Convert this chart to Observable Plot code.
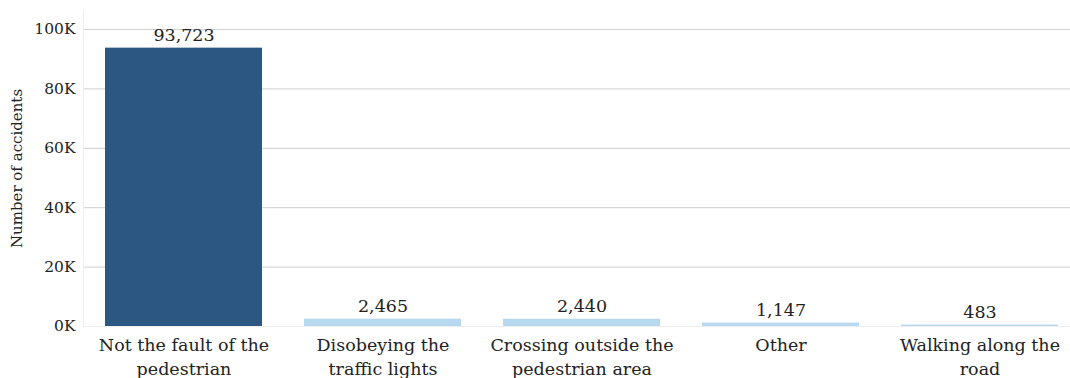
<!DOCTYPE html>
<html>
<head>
<meta charset="utf-8">
<script src="https://cdn.jsdelivr.net/npm/d3@7"></script>
<script src="https://cdn.jsdelivr.net/npm/@observablehq/plot@0.6"></script>
<style>
  html, body { margin: 0; padding: 0; background: #fff; overflow: hidden; }
  #chart svg { display: block; max-width: none !important; }
</style>
</head>
<body>
<div id="chart"></div>
<script>
// Pedestrian accidents by cause
const causes = [
  "Not the fault of the pedestrian",
  "Disobeying the traffic lights",
  "Crossing outside the pedestrian area",
  "Other",
  "Walking along the road"
];
const tickLabels = [
  "Not the fault of the\npedestrian",
  "Disobeying the\ntraffic lights",
  "Crossing outside the\npedestrian area",
  "Other",
  "Walking along the\nroad"
];
const accidents = [93723, 2465, 2440, 1147, 483];
const yTicks = [0, 20000, 40000, 60000, 80000, 100000];

const data = causes.map((cause, i) => ({cause, value: accidents[i]}));
const labelOf = new Map(causes.map((c, i) => [c, tickLabels[i]]));
const leadingCause = causes[0];

const font = "'DejaVu Serif', serif";

const chart = Plot.plot({
  width: 1080,
  height: 378,
  marginLeft: 83,
  marginRight: 0,
  marginTop: 10,
  marginBottom: 52,
  style: {fontFamily: font, color: "#222", background: "#fff"},
  x: {domain: causes, paddingInner: 0, paddingOuter: 0, label: null},
  y: {domain: [0, 106400], label: null},
  marks: [
    Plot.gridY(yTicks, {stroke: "#cfcfcf", strokeOpacity: 1}),
    Plot.frame({anchor: "left", stroke: "#eeeeee"}),
    Plot.ruleY([0], {stroke: "#eeeeee"}),
    Plot.barY(data, {
      x: "cause",
      y: "value",
      insetLeft: 21,
      insetRight: 21,
      fill: d => d.cause === leadingCause ? "#2c5782" : "#b6d9ef"
    }),
    Plot.text(data, {
      x: "cause",
      y: "value",
      text: d => d3.format(",")(d.value),
      dy: -13,
      fontSize: 17.5,
      fill: "#222"
    }),
    Plot.axisY(yTicks, {
      tickSize: 0,
      tickPadding: 8,
      fontSize: 15.5,
      tickFormat: d => `${d / 1000}K`,
      label: "Number of accidents",
      labelAnchor: "center",
      labelArrow: "none",
      labelOffset: 72
    }),
    Plot.axisX({
      tickSize: 0,
      tickPadding: 8,
      fontSize: 17.5,
      lineHeight: 1.35,
      tickFormat: d => labelOf.get(d)
    })
  ]
});

// y-axis title size
chart.querySelectorAll("g[aria-label='y-axis label'] text").forEach(t => t.setAttribute("font-size", 15));

document.getElementById("chart").append(chart);
</script>
</body>
</html>
